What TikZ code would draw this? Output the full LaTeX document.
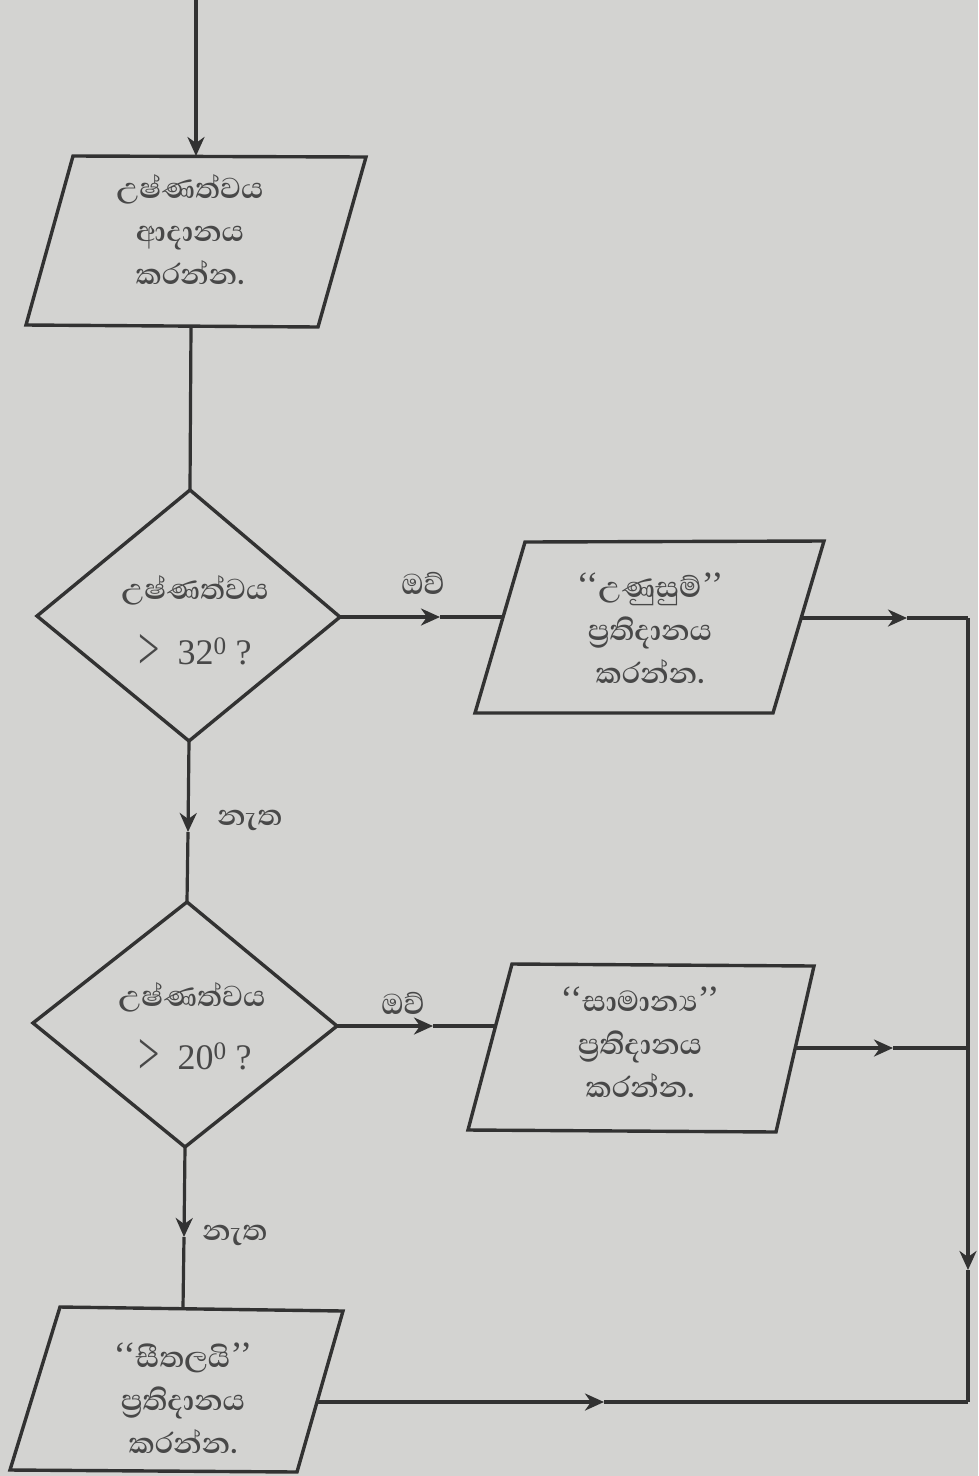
\documentclass[tikz,border=0pt]{standalone}
\usepackage{fontspec}
\usepackage{graphicx}
\setmainfont{Liberation Serif}
\newfontfamily\sinhalafont[Script=Sinhala]{Abhaya Libre}
\usetikzlibrary{arrows.meta}
\definecolor{bg}{RGB}{211,211,209}
\definecolor{ink}{RGB}{50,50,50}
\definecolor{txt}{RGB}{72,72,72}
\newcommand{\bigcmp}{\raisebox{-5pt}{\scalebox{1.05}[1.7]{>}}}
\begin{document}
\begin{tikzpicture}[x=1pt,y=-1pt,
  shapeline/.style={draw=ink,line width=3.4pt,line join=miter},
  flow/.style={draw=ink,line width=3.2pt},
  tip/.style={-{Stealth[length=19pt,width=17pt,inset=6pt]}},
  sitext/.style={text=txt,font=\sinhalafont\bfseries\fontsize{37}{43}\selectfont,align=center,inner sep=0pt},
  cond/.style={text=txt,font=\fontsize{36}{40}\selectfont,inner sep=0pt},
  lbl/.style={text=txt,font=\sinhalafont\bfseries\fontsize{37}{40}\selectfont,inner sep=0pt},
]
\useasboundingbox[fill=bg] (0,0) rectangle (978,1476);

% ---------- corner coordinates ----------
\coordinate (p1a) at (73,156);  \coordinate (p1b) at (366,157);
\coordinate (p1c) at (318,327); \coordinate (p1d) at (26,325);
\coordinate (d1t) at (190,490); \coordinate (d1r) at (340,617);
\coordinate (d1b) at (189,741); \coordinate (d1l) at (37,616);
\coordinate (p2a) at (525,542); \coordinate (p2b) at (824,541);
\coordinate (p2c) at (773,713); \coordinate (p2d) at (475,713);
\coordinate (d2t) at (187,902); \coordinate (d2r) at (337,1026);
\coordinate (d2b) at (185,1147); \coordinate (d2l) at (33,1023);
\coordinate (p3a) at (512,964); \coordinate (p3b) at (814,966);
\coordinate (p3c) at (776,1132); \coordinate (p3d) at (468,1130);
\coordinate (p4a) at (60,1307); \coordinate (p4b) at (343,1311);
\coordinate (p4c) at (297,1472); \coordinate (p4d) at (10,1470);

% ---------- shapes ----------
\draw[shapeline] (p1a) -- (p1b) -- (p1c) -- (p1d) -- cycle;
\draw[shapeline] (d1t) -- (d1r) -- (d1b) -- (d1l) -- cycle;
\draw[shapeline] (p2a) -- (p2b) -- (p2c) -- (p2d) -- cycle;
\draw[shapeline] (d2t) -- (d2r) -- (d2b) -- (d2l) -- cycle;
\draw[shapeline] (p3a) -- (p3b) -- (p3c) -- (p3d) -- cycle;
\draw[shapeline] (p4a) -- (p4b) -- (p4c) -- (p4d) -- cycle;

% ---------- texts ----------
\node[sitext] (in1) at (190,230) {උෂ්ණත්වය\\ආදානය\\කරන්න.};
\node[lbl] (q1a) at (195,590) {උෂ්ණත්වය};
\node[cond,anchor=base] (q1b) at (195,664) {\bigcmp\ \ 32\textsuperscript{0} ?};
\node[sitext] (out1) at (650,628) {{\mdseries\rmfamily‘‘}උණුසුම්{\mdseries\rmfamily’’}\\ප්‍රතිදානය\\කරන්න.};
\node[lbl] (q2a) at (192,997) {උෂ්ණත්වය};
\node[cond,anchor=base] (q2b) at (195,1069) {\bigcmp\ \ 20\textsuperscript{0} ?};
\node[sitext] (out2) at (640,1042) {{\mdseries\rmfamily‘‘}සාමාන්‍ය{\mdseries\rmfamily’’}\\ප්‍රතිදානය\\කරන්න.};
\node[sitext] (out3) at (183,1398) {{\mdseries\rmfamily‘‘}සීතලයි{\mdseries\rmfamily’’}\\ප්‍රතිදානය\\කරන්න.};

\node[lbl] (yes1) at (423,583) {ඔව්};
\node[lbl] (no1) at (250,820) {නැත};
\node[lbl] (yes2) at (403,1003) {ඔව්};
\node[lbl] (no2) at (235,1235) {නැත};

% ---------- connector points ----------
\coordinate (start) at (196,0);
\coordinate (p1top) at (196,156);
\coordinate (p1bot) at (191,326);
\coordinate (a1) at (440,617);
\coordinate (p2in) at (503,617);
\coordinate (p2out) at (801,618);
\coordinate (a2) at (907,618);
\coordinate (r1) at (968,618);
\coordinate (a3) at (188,832);
\coordinate (a4) at (433,1026);
\coordinate (p3in) at (496,1026);
\coordinate (p3out) at (795,1048);
\coordinate (a5) at (893,1048);
\coordinate (r2) at (968,1048);
\coordinate (a6) at (184,1237);
\coordinate (p4top) at (183,1308);
\coordinate (p4out) at (318,1402);
\coordinate (a7) at (604,1402);
\coordinate (r3) at (968,1402);
\coordinate (a8) at (968,1270);

% ---------- connectors ----------
\draw[flow,tip] (start) -- (p1top);
\draw[flow] (p1bot) -- (d1t);
\draw[flow,tip] (d1r) -- (a1);
\draw[flow] (a1) -- (p2in);
\draw[flow,tip] (p2out) -- (a2);
\draw[flow] (a2) -- (r1);
\draw[flow,tip] (d1b) -- (a3);
\draw[flow] (a3) -- (d2t);
\draw[flow,tip] (d2r) -- (a4);
\draw[flow] (a4) -- (p3in);
\draw[flow,tip] (p3out) -- (a5);
\draw[flow] (a5) -- (r2);
\draw[flow,tip] (d2b) -- (a6);
\draw[flow] (a6) -- (p4top);
\draw[flow,tip] (p4out) -- (a7);
\draw[flow] (a7) -- (r3);
\draw[flow,tip] (r1) -- (a8);
\draw[flow] (a8) -- (r3);
\end{tikzpicture}
\end{document}
